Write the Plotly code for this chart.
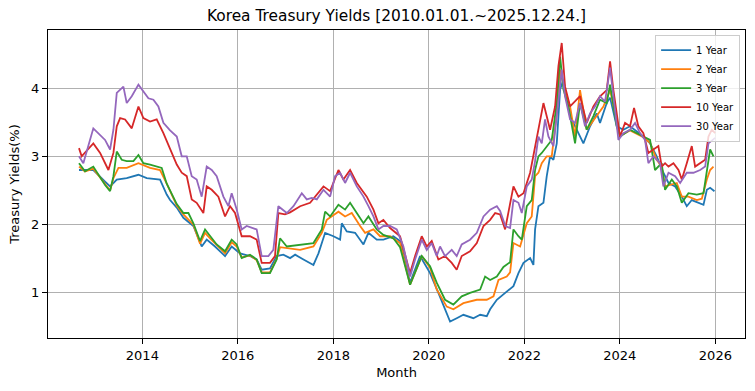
import plotly.graph_objects as go
from datetime import datetime, timedelta

# ---- data (decimal years, yield %) ----
t_1y = [2012.674, 2012.974, 2013.218, 2013.323, 2013.463, 2013.672, 2013.917, 2014.091, 2014.37, 2014.51,
        2014.58, 2014.72, 2014.859, 2015.069, 2015.243, 2015.348, 2015.522, 2015.732, 2015.871, 2016.046,
        2016.255, 2016.395, 2016.50, 2016.674, 2016.814, 2016.953, 2017.093, 2017.198, 2017.373, 2017.582,
        2017.687, 2017.826, 2018.001, 2018.141, 2018.176, 2018.28, 2018.455, 2018.63, 2018.734, 2018.908,
        2019.048, 2019.257, 2019.397, 2019.607, 2019.816, 2020.026, 2020.2, 2020.34, 2020.445, 2020.584,
        2020.724, 2020.933, 2021.073, 2021.212, 2021.282, 2021.422, 2021.561, 2021.70, 2021.77, 2021.875,
        2021.98, 2022.12, 2022.189, 2022.224, 2022.294, 2022.399, 2022.468, 2022.538, 2022.608, 2022.678,
        2022.748, 2022.817, 2022.887, 2022.957, 2023.097, 2023.236, 2023.376, 2023.515, 2023.585, 2023.725,
        2023.795, 2023.935, 2024.074, 2024.214, 2024.493, 2024.633, 2024.772, 2024.912, 2025.017, 2025.156,
        2025.296, 2025.40, 2025.505, 2025.645, 2025.75, 2025.82, 2025.889, 2025.98]
y_1y = [2.80, 2.80, 2.63, 2.56, 2.66, 2.68, 2.73, 2.68, 2.66, 2.44,
        2.36, 2.25, 2.10, 1.98, 1.68, 1.78, 1.68, 1.54, 1.68, 1.58,
        1.54, 1.49, 1.34, 1.36, 1.54, 1.56, 1.51, 1.56, 1.49, 1.41,
        1.58, 1.88, 1.83, 1.78, 2.02, 1.90, 1.88, 1.71, 1.88, 1.78,
        1.78, 1.83, 1.76, 1.15, 1.54, 1.29, 1.00, 0.76, 0.58, 0.63,
        0.68, 0.63, 0.68, 0.66, 0.76, 0.90, 0.98, 1.05, 1.10, 1.29,
        1.44, 1.51, 1.41, 1.93, 2.27, 2.32, 2.71, 3.00, 2.95, 3.19,
        3.98, 4.12, 3.88, 3.59, 3.39, 3.19, 3.44, 3.63, 3.49, 3.78,
        3.86, 3.44, 3.39, 3.44, 3.29, 3.19, 3.00, 2.76, 2.61, 2.56,
        2.41, 2.27, 2.36, 2.32, 2.29, 2.51, 2.54, 2.49]

t_2y = [2012.674, 2012.80, 2012.974, 2013.079, 2013.218, 2013.323, 2013.393, 2013.498, 2013.672, 2013.917,
        2014.161, 2014.37, 2014.51, 2014.58, 2014.72, 2014.859, 2015.069, 2015.208, 2015.313, 2015.418,
        2015.557, 2015.732, 2015.871, 2015.976, 2016.081, 2016.255, 2016.395, 2016.50, 2016.674, 2016.814,
        2016.884, 2017.303, 2017.582, 2017.757, 2017.861, 2018.106, 2018.245, 2018.385, 2018.56, 2018.664,
        2018.839, 2018.978, 2019.188, 2019.397, 2019.607, 2019.851, 2020.026, 2020.165, 2020.375, 2020.514,
        2020.724, 2021.003, 2021.212, 2021.352, 2021.457, 2021.63, 2021.70, 2021.77, 2021.91, 2022.05,
        2022.154, 2022.224, 2022.294, 2022.364, 2022.468, 2022.573, 2022.678, 2022.748, 2022.852, 2022.957,
        2023.062, 2023.166, 2023.306, 2023.515, 2023.655, 2023.795, 2023.934, 2024.004, 2024.214, 2024.493,
        2024.633, 2024.772, 2024.877, 2024.947, 2025.191, 2025.296, 2025.435, 2025.61, 2025.715, 2025.82,
        2025.889, 2025.959]
y_2y = [2.85, 2.78, 2.82, 2.72, 2.60, 2.50, 2.68, 2.83, 2.83, 2.90,
        2.83, 2.80, 2.60, 2.49, 2.28, 2.15, 2.00, 1.72, 1.88, 1.80,
        1.70, 1.58, 1.74, 1.68, 1.52, 1.55, 1.48, 1.30, 1.30, 1.50,
        1.67, 1.63, 1.68, 1.88, 2.07, 2.19, 2.12, 2.17, 1.98, 1.88,
        1.93, 1.83, 1.83, 1.73, 1.12, 1.54, 1.37, 1.05, 0.80, 0.76,
        0.85, 0.90, 0.90, 0.95, 1.19, 1.24, 1.30, 1.73, 1.68, 2.02,
        2.12, 2.71, 2.76, 2.90, 3.00, 3.00, 3.63, 4.27, 3.95, 3.73,
        3.29, 3.97, 3.39, 3.59, 3.73, 3.97, 3.54, 3.30, 3.38, 3.28,
        3.20, 2.95, 2.85, 2.56, 2.61, 2.41, 2.41, 2.36, 2.38, 2.66,
        2.80, 2.85]

t_3y = [2012.674, 2012.80, 2012.974, 2013.079, 2013.218, 2013.323, 2013.393, 2013.463, 2013.567, 2013.672,
        2013.812, 2013.917, 2014.021, 2014.161, 2014.30, 2014.405, 2014.51, 2014.58, 2014.72, 2014.859,
        2014.964, 2015.069, 2015.208, 2015.313, 2015.418, 2015.557, 2015.732, 2015.871, 2015.976, 2016.081,
        2016.255, 2016.395, 2016.50, 2016.674, 2016.814, 2016.884, 2017.024, 2017.303, 2017.582, 2017.757,
        2017.826, 2017.931, 2018.106, 2018.245, 2018.35, 2018.49, 2018.63, 2018.734, 2018.908, 2019.048,
        2019.257, 2019.397, 2019.607, 2019.851, 2020.026, 2020.165, 2020.34, 2020.514, 2020.689, 2020.863,
        2021.073, 2021.177, 2021.282, 2021.422, 2021.561, 2021.70, 2021.77, 2021.875, 2021.945, 2022.05,
        2022.154, 2022.224, 2022.294, 2022.364, 2022.468, 2022.573, 2022.678, 2022.748, 2022.817, 2022.922,
        2023.062, 2023.166, 2023.306, 2023.446, 2023.585, 2023.725, 2023.795, 2023.935, 2024.004, 2024.214,
        2024.493, 2024.633, 2024.737, 2024.877, 2024.947, 2025.087, 2025.191, 2025.296, 2025.435, 2025.61,
        2025.75, 2025.82, 2025.889, 2025.959]
y_3y = [2.90, 2.78, 2.85, 2.73, 2.58, 2.49, 2.71, 3.07, 2.95, 2.93,
        2.93, 3.02, 2.90, 2.88, 2.85, 2.83, 2.60, 2.50, 2.30, 2.17,
        2.17, 2.02, 1.76, 1.93, 1.83, 1.71, 1.61, 1.78, 1.71, 1.51,
        1.56, 1.49, 1.29, 1.29, 1.49, 1.80, 1.68, 1.70, 1.73, 1.93,
        2.19, 2.12, 2.29, 2.22, 2.32, 2.17, 2.02, 2.12, 1.93, 1.85,
        1.80, 1.67, 1.12, 1.54, 1.39, 1.15, 0.90, 0.83, 0.95, 1.00,
        1.05, 1.24, 1.19, 1.24, 1.38, 1.45, 1.93, 1.83, 1.78, 2.27,
        2.36, 2.80, 3.00, 3.05, 3.15, 3.24, 3.78, 4.46, 3.98, 3.73,
        3.19, 3.78, 3.39, 3.59, 3.83, 3.78, 4.05, 3.44, 3.29, 3.39,
        3.29, 3.24, 2.80, 2.90, 2.51, 2.66, 2.56, 2.32, 2.46, 2.44,
        2.46, 2.76, 3.10, 3.00]

t_10y = [2012.674, 2012.73, 2012.974, 2013.114, 2013.288, 2013.393, 2013.463, 2013.533, 2013.637, 2013.777,
         2013.917, 2014.021, 2014.161, 2014.30, 2014.44, 2014.58, 2014.72, 2014.824, 2014.929, 2015.034,
         2015.138, 2015.278, 2015.348, 2015.453, 2015.592, 2015.732, 2015.837, 2015.941, 2016.081, 2016.255,
         2016.395, 2016.50, 2016.674, 2016.779, 2016.849, 2016.988, 2017.093, 2017.303, 2017.512, 2017.792,
         2017.931, 2018.106, 2018.21, 2018.35, 2018.49, 2018.699, 2018.839, 2018.943, 2019.048, 2019.188,
         2019.397, 2019.607, 2019.712, 2019.851, 2019.956, 2020.061, 2020.2, 2020.34, 2020.48, 2020.584,
         2020.689, 2020.863, 2021.003, 2021.143, 2021.282, 2021.387, 2021.491, 2021.596, 2021.77, 2021.875,
         2021.98, 2022.12, 2022.224, 2022.294, 2022.399, 2022.538, 2022.643, 2022.713, 2022.782, 2022.852,
         2022.957, 2023.166, 2023.306, 2023.446, 2023.585, 2023.725, 2023.795, 2023.865, 2023.935, 2024.004,
         2024.109, 2024.214, 2024.298, 2024.388, 2024.493, 2024.598, 2024.703, 2024.807, 2024.877, 2024.947,
         2025.017, 2025.121, 2025.226, 2025.296, 2025.40, 2025.505, 2025.575, 2025.68, 2025.785, 2025.854,
         2025.924, 2025.994]
y_10y = [3.12, 3.00, 3.19, 3.05, 2.80, 3.05, 3.44, 3.56, 3.54, 3.41,
         3.73, 3.56, 3.51, 3.54, 3.34, 3.10, 2.88, 2.76, 2.71, 2.37,
         2.32, 2.17, 2.56, 2.51, 2.41, 2.12, 2.27, 2.17, 1.83, 1.83,
         1.78, 1.44, 1.44, 1.54, 2.17, 2.15, 2.18, 2.27, 2.32, 2.56,
         2.49, 2.80, 2.66, 2.80, 2.61, 2.41, 2.22, 2.02, 2.07, 1.95,
         1.83, 1.29, 1.54, 1.83, 1.68, 1.76, 1.49, 1.54, 1.44, 1.34,
         1.54, 1.61, 1.73, 1.98, 2.07, 2.17, 2.15, 1.93, 2.56, 2.41,
         2.46, 2.76, 3.15, 3.44, 3.78, 3.39, 3.73, 4.32, 4.66, 4.02,
         3.73, 3.88, 3.49, 3.73, 3.88, 3.97, 4.39, 3.97, 3.59, 3.29,
         3.49, 3.44, 3.71, 3.44, 3.34, 3.05, 3.10, 3.15, 2.85, 2.90,
         2.85, 2.90, 2.80, 2.66, 2.90, 3.15, 2.85, 2.90, 2.95, 3.29,
         3.39, 3.34]

t_30y = [2012.674, 2012.765, 2012.974, 2013.114, 2013.218, 2013.323, 2013.393, 2013.463, 2013.602, 2013.672,
         2013.777, 2013.917, 2014.021, 2014.126, 2014.231, 2014.335, 2014.44, 2014.58, 2014.72, 2014.824,
         2014.929, 2015.034, 2015.138, 2015.243, 2015.348, 2015.453, 2015.557, 2015.697, 2015.802, 2015.871,
         2015.976, 2016.081, 2016.186, 2016.395, 2016.50, 2016.64, 2016.744, 2016.849, 2017.024, 2017.163,
         2017.338, 2017.442, 2017.547, 2017.652, 2017.792, 2017.931, 2018.036, 2018.141, 2018.245, 2018.35,
         2018.49, 2018.63, 2018.734, 2018.839, 2018.943, 2019.048, 2019.188, 2019.328, 2019.467, 2019.607,
         2019.712, 2019.851, 2019.956, 2020.061, 2020.165, 2020.235, 2020.34, 2020.48, 2020.584, 2020.689,
         2020.863, 2021.003, 2021.143, 2021.282, 2021.422, 2021.491, 2021.60, 2021.70, 2021.77, 2021.875,
         2021.945, 2022.05, 2022.154, 2022.224, 2022.294, 2022.364, 2022.433, 2022.503, 2022.608, 2022.713,
         2022.782, 2022.852, 2022.957, 2023.062, 2023.166, 2023.271, 2023.376, 2023.48, 2023.585, 2023.69,
         2023.795, 2023.865, 2023.90, 2023.97, 2024.074, 2024.214, 2024.319, 2024.423, 2024.528, 2024.598,
         2024.703, 2024.842, 2024.912, 2025.017, 2025.156, 2025.261, 2025.40, 2025.54, 2025.68, 2025.785,
         2025.854, 2025.994]
y_30y = [3.00, 2.90, 3.41, 3.32, 3.24, 3.10, 3.39, 3.93, 4.02, 3.78,
         3.88, 4.05, 3.95, 3.85, 3.83, 3.73, 3.49, 3.38, 3.29, 3.00,
         3.00, 2.71, 2.66, 2.41, 2.85, 2.80, 2.71, 2.41, 2.27, 2.46,
         2.22, 1.93, 1.98, 1.93, 1.54, 1.54, 1.63, 2.27, 2.17, 2.27,
         2.46, 2.37, 2.39, 2.37, 2.51, 2.41, 2.71, 2.76, 2.61, 2.76,
         2.56, 2.41, 2.27, 2.12, 1.93, 1.98, 1.98, 1.93, 1.68, 1.24,
         1.49, 1.78, 1.63, 1.73, 1.54, 1.68, 1.54, 1.63, 1.54, 1.71,
         1.78, 1.88, 2.12, 2.22, 2.27, 2.20, 1.98, 1.95, 2.36, 2.32,
         2.17, 2.56, 2.66, 2.93, 3.29, 3.19, 3.54, 3.29, 3.15, 3.88,
         4.27, 3.88, 3.54, 3.49, 3.78, 3.44, 3.63, 3.73, 3.88, 3.80,
         4.30, 3.88, 3.63, 3.24, 3.34, 3.39, 3.49, 3.34, 3.24, 2.90,
         3.00, 2.90, 2.56, 2.76, 2.71, 2.61, 2.76, 2.76, 2.80, 2.85,
         3.19, 3.27]

series_names = ["1 Year", "2 Year", "3 Year", "10 Year", "30 Year"]
series_colors = ["#1f77b4", "#ff7f0e", "#2ca02c", "#d62728", "#9467bd"]
series_data = [(t_1y, y_1y), (t_2y, y_2y), (t_3y, y_3y), (t_10y, y_10y), (t_30y, y_30y)]


def to_date(y):
    yr = int(y)
    return datetime(yr, 1, 1) + timedelta(days=(y - yr) * 365.25)


FONT = "DejaVu Sans"
fig = go.Figure()
for name, color, (t, v) in zip(series_names, series_colors, series_data):
    fig.add_trace(go.Scatter(x=[to_date(a) for a in t], y=v, mode="lines", name=name,
                             line=dict(color=color, width=1.8)))

fig.update_layout(
    width=755, height=391,
    margin=dict(l=48, r=10, t=30, b=53),
    paper_bgcolor="white", plot_bgcolor="white",
    font=dict(family=FONT, size=13, color="black"),
    title=dict(text="Korea Treasury Yields [2010.01.01.~2025.12.24.]", x=0.5, xref="paper",
               y=1 - 16 / 391, yref="container", yanchor="middle", xanchor="center",
               font=dict(family=FONT, size=15.4, color="black")),
    showlegend=True,
    legend=dict(x=0.993, y=0.985, xanchor="right", yanchor="top",
                bgcolor="rgba(255,255,255,0.8)", bordercolor="#cccccc", borderwidth=1,
                font=dict(family=FONT, size=10, color="black"),
                tracegroupgap=0, itemwidth=30),
)
fig.update_xaxes(
    type="date", range=[to_date(2012.025), to_date(2026.62)],
    tick0="2014-01-01", dtick="M24", tickformat="%Y",
    showgrid=True, gridcolor="#b0b0b0", gridwidth=1,
    showline=True, linecolor="black", linewidth=1, mirror=True,
    ticks="outside", ticklen=5, tickcolor="black",
    title=dict(text="Month", font=dict(family=FONT, size=13), standoff=6),
    zeroline=False,
)
fig.update_yaxes(
    range=[0.34, 4.85], tickvals=[1, 2, 3, 4],
    showgrid=True, gridcolor="#b0b0b0", gridwidth=1,
    showline=True, linecolor="black", linewidth=1, mirror=True,
    ticks="outside", ticklen=5, tickcolor="black",
    title=dict(text="Treasury Yields(%)", font=dict(family=FONT, size=13), standoff=8),
    zeroline=False,
)

fig.write_html("out.html", config={"displayModeBar": False},
               post_script="document.body.style.margin='0';document.body.style.overflow='hidden';")
